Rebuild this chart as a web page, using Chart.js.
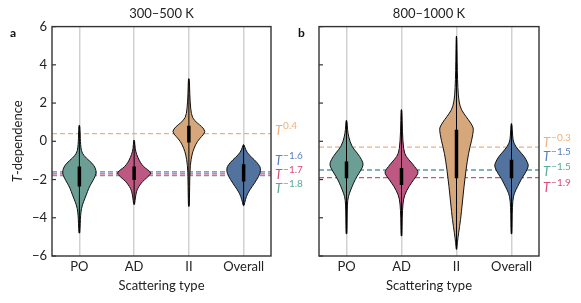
<!DOCTYPE html>
<html lang="en">
<head>
<meta charset="UTF-8">
<title>T-dependence violins</title>
<script src="https://cdn.jsdelivr.net/npm/chart.js@4"></script>
<style>
  body { margin: 0; background: #fff; }
  .wrap { position: relative; width: 581px; height: 303px; }
  #lowChart { position: absolute; left: 0; top: 0; }
  #highChart { position: absolute; left: 290px; top: 0; }
</style>
</head>
<body>
<div class="wrap">
  <canvas id="lowChart" width="310" height="303"></canvas>
  <canvas id="highChart" width="291" height="303"></canvas>
</div>
<script>
const categories = ['PO', 'AD', 'II', 'Overall'];
const violinColors = ['#6b9e94', '#bd5882', '#d6a77b', '#52739d'];

// 300–500 K
const lowMin = [-4.8, -3.3, -3.4, -3.36];
const lowMax = [0.83, 0.05, 3.27, -0.18];
const lowQ1 = [-2.37, -2.02, -0.06, -2.1];
const lowQ3 = [-1.32, -1.32, 0.81, -1.2];
const lowMedian = [-1.75, -1.67, 0.39, -1.65];
const lowShapeLevels = [
  [0.83, 0.3, 0.0, -0.36, -0.62, -0.88, -1.14, -1.4, -1.67, -1.93, -2.19, -2.45, -2.8, -3.15, -3.5, -3.9, -4.3, -4.8],
  [0.05, -0.4, -0.7, -1.0, -1.23, -1.4, -1.55, -1.67, -1.8, -1.93, -2.1, -2.28, -2.45, -2.63, -2.9, -3.3],
  [3.27, 2.5, 1.7, 1.21, 0.95, 0.78, 0.51, 0.25, 0.0, -0.36, -0.7, -1.23, -2.0, -3.4],
  [-0.18, -0.45, -0.7, -0.97, -1.23, -1.4, -1.67, -2.0, -2.37, -2.71, -3.06, -3.36]
];
const lowShapeDensity = [
  [0.03, 0.05, 0.06, 0.09, 0.16, 0.4, 0.75, 0.95, 1.0, 0.88, 0.71, 0.55, 0.41, 0.25, 0.12, 0.07, 0.05, 0.03],
  [0.03, 0.06, 0.15, 0.3, 0.46, 0.65, 0.9, 1.0, 0.88, 0.72, 0.5, 0.34, 0.22, 0.14, 0.08, 0.03],
  [0.03, 0.05, 0.1, 0.2, 0.5, 0.75, 1.0, 0.75, 0.5, 0.3, 0.18, 0.08, 0.05, 0.03],
  [0.03, 0.12, 0.3, 0.64, 0.9, 1.0, 0.98, 0.78, 0.5, 0.24, 0.1, 0.03]
];
const lowRefValues = [0.4, -1.6, -1.7, -1.8];
const lowRefLabels = ['0.4', '−1.6', '−1.7', '−1.8'];
const lowRefColors = ['#eeb07c', '#5a7fbf', '#dd4a7c', '#5aa99a'];

// 800–1000 K
const highMin = [-4.84, -4.95, -5.65, -4.84];
const highMax = [1.09, 1.65, 5.49, 0.92];
const highQ1 = [-1.93, -2.28, -1.93, -1.93];
const highQ3 = [-1.06, -1.4, 0.6, -0.97];
const highMedian = [-1.46, -1.81, -0.24, -1.44];
const highShapeLevels = [
  [1.09, 0.6, 0.25, -0.27, -0.62, -0.97, -1.23, -1.49, -1.84, -2.19, -2.54, -2.89, -3.3, -4.0, -4.84],
  [1.65, 0.5, -0.45, -0.8, -1.14, -1.49, -1.67, -2.0, -2.37, -2.8, -3.24, -4.0, -4.95],
  [5.49, 4.2, 3.22, 2.4, 1.82, 1.48, 1.13, 0.78, 0.6, 0.08, -0.62, -1.49, -2.37, -3.24, -4.11, -4.81, -5.3, -5.65],
  [0.92, 0.3, -0.1, -0.45, -0.8, -1.14, -1.32, -1.67, -2.0, -2.37, -2.71, -3.1, -3.8, -4.84]
];
const highShapeDensity = [
  [0.03, 0.06, 0.12, 0.3, 0.64, 0.9, 1.0, 0.86, 0.61, 0.41, 0.25, 0.1, 0.05, 0.04, 0.03],
  [0.03, 0.05, 0.12, 0.26, 0.61, 0.92, 1.0, 0.72, 0.43, 0.18, 0.08, 0.04, 0.03],
  [0.02, 0.04, 0.06, 0.1, 0.2, 0.4, 0.7, 0.96, 1.0, 0.9, 0.7, 0.56, 0.44, 0.34, 0.24, 0.12, 0.05, 0.02],
  [0.03, 0.06, 0.12, 0.4, 0.76, 0.96, 1.0, 0.8, 0.56, 0.36, 0.16, 0.07, 0.04, 0.03]
];
const highRefValues = [-0.3, -1.5, -1.5, -1.9];
const highRefLabels = ['−0.3', '−1.5', '−1.5', '−1.9'];
const highRefColors = ['#eeb07c', '#5a7fbf', '#5aa99a', '#dd4a7c'];

// where the T^x labels sit next to the frame (value units)
const lowLabelAt = [0.6, -0.97, -1.7, -2.43];
const highLabelAt = [-0.05, -0.79, -1.57, -2.41];

Chart.defaults.font.family = 'Lato, "Open Sans", sans-serif';
Chart.defaults.color = '#222';

function tracePath(ctx, pts) {
  ctx.moveTo(pts[0][0], pts[0][1]);
  for (let i = 1; i < pts.length - 1; i++) {
    const mx = (pts[i][0] + pts[i + 1][0]) / 2;
    const my = (pts[i][1] + pts[i + 1][1]) / 2;
    ctx.quadraticCurveTo(pts[i][0], pts[i][1], mx, my);
  }
  const last = pts[pts.length - 1];
  ctx.lineTo(last[0], last[1]);
}

function makeChart(id, cfg) {
  const panelPlugin = {
    id: 'panel_' + id,
    beforeDatasetsDraw(chart) {
      const { ctx, chartArea, scales: { x, y } } = chart;
      // reference power-law lines
      ctx.save();
      ctx.lineWidth = 1.2;
      ctx.setLineDash([5, 3]);
      cfg.refValues.forEach((v, i) => {
        const py = y.getPixelForValue(v);
        ctx.strokeStyle = cfg.refColors[i];
        ctx.beginPath();
        ctx.moveTo(chartArea.left, py);
        ctx.lineTo(chartArea.right, py);
        ctx.stroke();
      });
      ctx.restore();

      // violin bodies
      const step = x.getPixelForValue(1) - x.getPixelForValue(0);
      const maxHalf = step * 0.31;
      categories.forEach((c, i) => {
        const cx = x.getPixelForValue(i);
        const lv = cfg.levels[i], dn = cfg.density[i];
        const right = lv.map((v, k) => [cx + dn[k] * maxHalf, y.getPixelForValue(v)]);
        const left = lv.map((v, k) => [cx - dn[k] * maxHalf, y.getPixelForValue(v)]).reverse();
        const pts = [[cx, y.getPixelForValue(lv[0])]].concat(right, [[cx, y.getPixelForValue(lv[lv.length - 1])]], left, [[cx, y.getPixelForValue(lv[0])]]);
        ctx.save();
        ctx.beginPath();
        tracePath(ctx, pts);
        ctx.closePath();
        ctx.fillStyle = violinColors[i];
        ctx.fill();
        ctx.strokeStyle = '#111';
        ctx.lineWidth = 1;
        ctx.stroke();
        ctx.restore();
      });
    },
    afterDraw(chart) {
      const { ctx, chartArea, scales: { y } } = chart;
      ctx.save();
      // frame
      ctx.strokeStyle = '#333';
      ctx.lineWidth = 1.4;
      ctx.strokeRect(chartArea.left, chartArea.top, chartArea.right - chartArea.left, chartArea.bottom - chartArea.top);
      // inward ticks
      ctx.lineWidth = 1.2;
      y.ticks.forEach(t => {
        const py = y.getPixelForValue(t.value);
        ctx.beginPath();
        ctx.moveTo(chartArea.left, py);
        ctx.lineTo(chartArea.left + 4, py);
        ctx.stroke();
      });
      // panel letter
      ctx.fillStyle = '#111';
      ctx.font = 'bold 12px Lato, sans-serif';
      ctx.textBaseline = 'alphabetic';
      ctx.fillText(cfg.letter, cfg.letterX, 37);
      // T^x labels
      cfg.refLabels.forEach((txt, i) => {
        const py = y.getPixelForValue(cfg.labelAt[i]) + 5;
        const px = chartArea.right + 4;
        ctx.fillStyle = cfg.refColors[i];
        ctx.font = 'italic 13px Lato, sans-serif';
        ctx.fillText('T', px, py);
        const w = ctx.measureText('T').width;
        ctx.font = '10px Lato, sans-serif';
        ctx.fillText(txt, px + w + 1, py - 6);
      });
      // y-axis title
      if (cfg.yTitle) {
        ctx.fillStyle = '#222';
        ctx.translate(18, (chartArea.top + chartArea.bottom) / 2);
        ctx.rotate(-Math.PI / 2);
        ctx.font = 'italic 13px Lato, sans-serif';
        const wT = ctx.measureText('T').width;
        ctx.font = '13px Lato, sans-serif';
        const wRest = ctx.measureText('-dependence').width;
        const start = -(wT + wRest) / 2;
        ctx.textBaseline = 'middle';
        ctx.font = 'italic 13px Lato, sans-serif';
        ctx.fillText('T', start, 0);
        ctx.font = '13px Lato, sans-serif';
        ctx.fillText('-dependence', start + wT, 0);
      }
      ctx.restore();
    }
  };

  return new Chart(document.getElementById(id), {
    type: 'bar',
    data: {
      labels: categories,
      datasets: [
        {
          data: cfg.min.map((v, i) => [v, cfg.max[i]]),
          backgroundColor: '#000',
          barThickness: 1,
          inflateAmount: 0,
          grouped: false
        },
        {
          data: cfg.q1.map((v, i) => [v, cfg.q3[i]]),
          backgroundColor: '#000',
          barThickness: 3.5,
          inflateAmount: 0,
          grouped: false
        },
        {
          type: 'line',
          data: cfg.median,
          showLine: false,
          pointRadius: 1.2,
          pointBorderWidth: 0,
          pointBackgroundColor: '#fff'
        }
      ]
    },
    options: {
      responsive: false,
      animation: false,
      layout: { padding: { left: 0, right: cfg.padRight, top: 0, bottom: 0 } },
      plugins: {
        legend: { display: false },
        tooltip: { enabled: false },
        title: {
          display: true,
          text: cfg.title,
          fullSize: false,
          color: '#222',
          font: { size: 13, weight: 'normal' },
          padding: { top: 6, bottom: 5 }
        }
      },
      scales: {
        x: {
          offset: true,
          grid: { offset: false, color: '#d2d2d2', lineWidth: 1.5, drawTicks: false },
          border: { display: false },
          ticks: { font: { size: 13 }, padding: 3, maxRotation: 0, color: '#222' },
          title: {
            display: true,
            text: 'Scattering type',
            color: '#222',
            font: { size: 13 },
            padding: { top: 4, bottom: 9 }
          },
          afterFit(s) { s.height = 47; }
        },
        y: {
          min: -6,
          max: 6,
          grid: { display: false, drawTicks: false },
          border: { display: false },
          ticks: {
            display: cfg.yLabels,
            stepSize: 2,
            padding: 5,
            color: '#222',
            font: { size: 13 },
            callback: v => String(v).replace('-', '−')
          },
          afterFit(s) { s.width = cfg.yWidth; }
        }
      }
    },
    plugins: [panelPlugin]
  });
}

makeChart('lowChart', {
  title: '300–500 K', letter: 'a', letterX: 10,
  min: lowMin, max: lowMax, q1: lowQ1, q3: lowQ3, median: lowMedian,
  levels: lowShapeLevels, density: lowShapeDensity,
  refValues: lowRefValues, refLabels: lowRefLabels, refColors: lowRefColors, labelAt: lowLabelAt,
  yLabels: true, yTitle: true, yWidth: 52, padRight: 39
});

makeChart('highChart', {
  title: '800–1000 K', letter: 'b', letterX: 8,
  min: highMin, max: highMax, q1: highQ1, q3: highQ3, median: highMedian,
  levels: highShapeLevels, density: highShapeDensity,
  refValues: highRefValues, refLabels: highRefLabels, refColors: highRefColors, labelAt: highLabelAt,
  yLabels: false, yTitle: false, yWidth: 29, padRight: 42
});
</script>
</body>
</html>
